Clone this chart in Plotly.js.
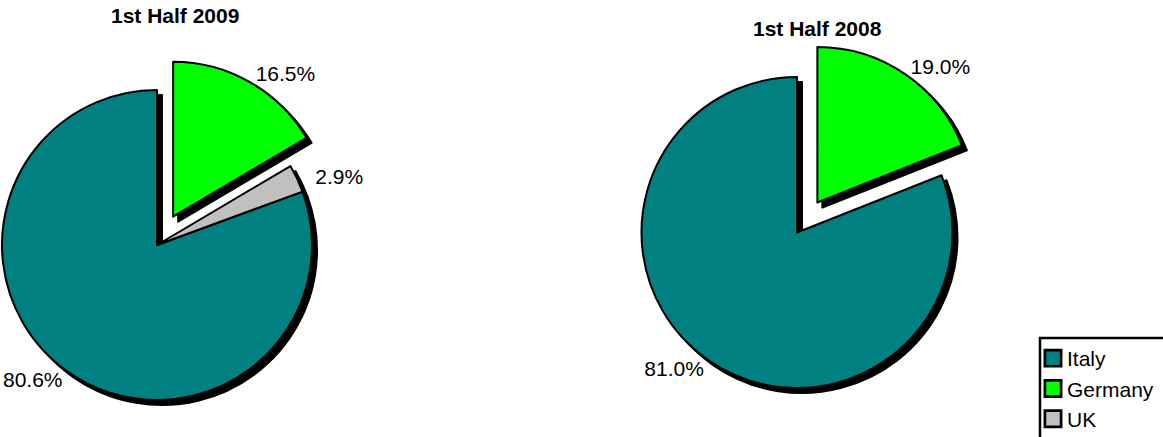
<!DOCTYPE html>
<html><head><meta charset="utf-8">
<script src="https://cdn.plot.ly/plotly-3.0.1.min.js"></script>
<style>
html,body{margin:0;padding:0;overflow:hidden;background:#fff;width:1163px;height:437px}
#chart{position:absolute;left:-60px;top:0;width:1223px;height:480px}
#chart path.textline{display:none}
#chart path.legendpie{transform:translate(26px,0) scale(1.35)}
</style></head><body><div id="chart"></div>
<script>
// ---- data ----
const categories = ['Italy', 'Germany', 'UK'];
const sliceColors = ['#008080', '#00FF00', '#C0C0C0'];
const share2009 = [80.6, 16.5, 2.9];
const share2008 = [81.0, 19.0, 0];
const pull2009 = [0, 0.21, 0];
const pull2008 = [0, 0.233, 0];
const pieTitles = ['1st Half 2009', '1st Half 2008'];

// ---- layout helpers (pixels) ----
const OFF = 60, W = 1223, H = 480, SH = 5;
const FONT = 'Liberation Sans, Arial, sans-serif';

function dom(cx, cy, r, pull, dx, dy) {
  const s = r * (1 + pull);
  const x = cx + OFF + dx, y = cy + dy;
  return {x: [(x - s) / W, (x + s) / W], y: [1 - (y + s) / H, 1 - (y - s) / H]};
}

function pieTraces(vals, pulls, cx, cy, r, showLegend) {
  const idx = vals.map((v, i) => i).filter(i => vals[i] > 0);
  const labels = idx.map(i => categories[i]);
  const values = idx.map(i => vals[i]);
  const pull = idx.map(i => pulls[i]);
  const total = vals.reduce((a, b) => a + b, 0);
  const rotation = 360 * (total - vals[0]) / total;
  const maxPull = Math.max(...pull);
  const common = {
    type: 'pie', labels: labels, values: values, pull: pull, sort: false,
    direction: 'clockwise', rotation: rotation, hoverinfo: 'skip'
  };
  const shadow = Object.assign({}, common, {
    domain: dom(cx, cy, r, maxPull, SH, SH),
    marker: {colors: labels.map(() => '#000'), line: {color: '#000', width: 2}},
    textinfo: 'none', showlegend: false
  });
  const main = Object.assign({}, common, {
    domain: dom(cx, cy, r, maxPull, 0, 0),
    marker: {colors: idx.map(i => sliceColors[i]), line: {color: '#000', width: 2}},
    texttemplate: '%{percent:.1%}', textposition: 'outside',
    outsidetextfont: {family: FONT, size: 21, color: '#000'},
    textfont: {family: FONT, size: 21, color: '#000'},
    showlegend: showLegend
  });
  return [shadow, main];
}

const data = [].concat(
  pieTraces(share2009, pull2009, 157, 245, 155, true),
  pieTraces(share2008, pull2008, 797, 232.5, 155.5, false)
);

const layout = {
  width: W, height: H,
  margin: {l: 0, r: 0, t: 0, b: 0, pad: 0, autoexpand: false},
  paper_bgcolor: '#fff', plot_bgcolor: '#fff',
  font: {family: FONT, color: '#000'},
  showlegend: true,
  legend: {
    x: (1027 + OFF) / W, y: 1 - 338 / H, xanchor: 'left', yanchor: 'top',
    bgcolor: 'rgba(0,0,0,0)', borderwidth: 0,
    font: {family: FONT, size: 21, color: '#000'}
  },
  shapes: [{
    type: 'rect', xref: 'paper', yref: 'paper', layer: 'above',
    x0: (1040 + OFF) / W, x1: (1220 + OFF) / W, y0: 1 - 338 / H, y1: 1 - 470 / H,
    line: {color: '#000', width: 2.5}, fillcolor: 'rgba(0,0,0,0)'
  }],
  annotations: [
    {text: '<b>' + pieTitles[0] + '</b>', xref: 'paper', yref: 'paper',
     x: (175 + OFF) / W, y: 1 - 15 / H, xanchor: 'center', yanchor: 'middle',
     showarrow: false, font: {family: FONT, size: 21, color: '#000'}},
    {text: '<b>' + pieTitles[1] + '</b>', xref: 'paper', yref: 'paper',
     x: (817.5 + OFF) / W, y: 1 - 28 / H, xanchor: 'center', yanchor: 'middle',
     showarrow: false, font: {family: FONT, size: 21, color: '#000'}}
  ]
};

Plotly.newPlot('chart', data, layout, {displayModeBar: false, staticPlot: true});
</script></body></html>
